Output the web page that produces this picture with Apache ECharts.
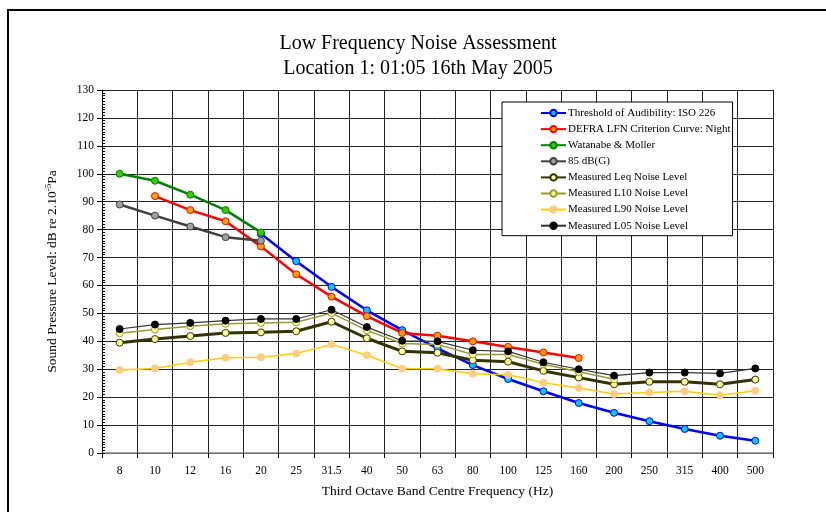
<!DOCTYPE html>
<html>
<head>
<meta charset="utf-8">
<script src="https://cdn.jsdelivr.net/npm/echarts@6/dist/echarts.min.js"></script>
<style>html,body{margin:0;padding:0;background:#fff;}#chart{width:826px;height:512px;}</style>
</head>
<body>
<div id="chart"></div>
<script>
const categories = ['8','10','12','16','20','25','31.5','40','50','63','80','100','125','160','200','250','315','400','500'];
const threshold = [null,null,null,null,78.5,68.7,59.5,51.1,44.0,37.5,31.5,26.5,22.1,17.9,14.4,11.4,8.6,6.2,4.4];
const defra = [null,92,87,83,74,64,56,49,43,42,40,38,36,34,null,null,null,null,null];
const watanabe = [100,97.5,92.5,87,79,null,null,null,null,null,null,null,null,null,null,null,null,null,null];
const dbg85 = [89,85,81.1,77.3,76.0,null,null,null,null,null,null,null,null,null,null,null,null,null,null];
const leq = [39.5,40.8,41.9,43.0,43.2,43.6,47.0,41.1,36.4,35.9,33.2,32.7,29.4,27.0,24.6,25.5,25.5,24.6,26.3];
const l10 = [42.9,44.2,45.4,46.3,46.6,46.8,50.1,43.9,39.2,38.9,35.3,35.3,31.8,29.1,26.4,null,null,null,null];
const l90 = [29.7,30.3,32.5,34.1,34.3,35.6,38.9,35.0,30.2,30.2,28.4,28.0,25.2,23.3,21.1,21.7,22.1,20.7,22.3];
const l05 = [44.4,46.0,46.6,47.4,48.0,48.0,51.3,45.1,40.2,40.0,36.8,36.4,32.5,30.0,27.7,28.8,28.8,28.5,30.3];

const FONT = 'Liberation Serif';
function mk(name, data, line, width, fill, border) {
  return {
    name: name, type: 'line', data: data, connectNulls: false,
    symbol: 'circle', symbolSize: 7, showAllSymbol: true,
    lineStyle: { color: line, width: width },
    itemStyle: { color: fill, borderColor: border, borderWidth: 1 },
    emphasis: { disabled: true }, animation: false
  };
}
const chart = echarts.init(document.getElementById('chart'), null, { renderer: 'canvas' });
chart.setOption({
  animation: false,
  backgroundColor: '#fff',
  textStyle: { fontFamily: FONT },
  graphic: [
    { type: 'rect', shape: { x: 8, y: 10, width: 840, height: 520 }, style: { fill: 'none', stroke: '#000', lineWidth: 2 }, silent: true },
    { type: 'text', x: 418, y: 31, style: { text: 'Low Frequency Noise Assessment\nLocation 1: 01:05 16th May 2005', textAlign: 'center', fontFamily: FONT, fontSize: 20, lineHeight: 25, fill: '#000' }, silent: true }
  ],
  legend: {
    orient: 'vertical', left: 502, top: 102,
    backgroundColor: '#fff', borderColor: '#000', borderWidth: 1,
    padding: [4, 2, 3, 38], itemGap: 2.1, itemWidth: 25, itemHeight: 8,
    textStyle: { fontFamily: FONT, fontSize: 11, lineHeight: 14, color: '#000', padding: [0, 0, 0, -3] },
    selectedMode: false
  },
  grid: { left: 102, right: 53, top: 90, bottom: 59 },
  xAxis: {
    type: 'category', data: categories, boundaryGap: true,
    name: 'Third Octave Band Centre Frequency (Hz)', nameLocation: 'middle', nameGap: 31,
    nameTextStyle: { fontFamily: FONT, fontSize: 13.5, color: '#000' },
    axisLine: { lineStyle: { color: '#888', width: 1.5 } },
    axisTick: { show: true, interval: 0, length: 5, lineStyle: { color: '#000' } },
    axisLabel: { interval: 0, fontFamily: FONT, fontSize: 11.5, color: '#000', margin: 12 },
    splitLine: { show: true, interval: 0, lineStyle: { color: '#222', width: 1 } }
  },
  yAxis: [{
    type: 'value', min: 0, max: 130, interval: 10,
    name: '{a|Sound Pressure Level: dB re 2.10}{s|-5}{a|Pa}', nameLocation: 'middle', nameGap: 41, nameRotate: 90,
    nameTextStyle: { rich: { a: { fontFamily: FONT, fontSize: 13.5, color: '#000' }, s: { fontFamily: FONT, fontSize: 9, color: '#000', verticalAlign: 'top', padding: [0, 0, 8, 0] } } },
    axisLine: { show: true, lineStyle: { color: '#000', width: 1 } },
    axisTick: { show: true, length: 5, lineStyle: { color: '#000' } },
    axisLabel: { fontFamily: FONT, fontSize: 11.5, color: '#000', margin: 8 },
    splitLine: { show: true, lineStyle: { color: '#222', width: 1 } }
  }, {
    type: 'value', min: 0, max: 130, interval: 1, position: 'left', offset: 0,
    axisLine: { show: false }, axisLabel: { show: false }, splitLine: { show: false },
    axisTick: { show: true, inside: true, length: 3, lineStyle: { color: '#000' } }
  }],
  series: [
    mk('Threshold of Audibility: ISO 226', threshold, '#0000FF', 2.5, '#00CCFF', '#0000FF'),
    mk('DEFRA LFN Criterion Curve: Night', defra, '#FF0000', 2.5, '#FFA500', '#FF0000'),
    mk('Watanabe & Moller', watanabe, '#008000', 2.5, '#33CC00', '#008000'),
    mk('85 dB(G)', dbg85, '#404040', 2.5, '#A0A0A0', '#404040'),
    mk('Measured Leq Noise Level', leq, '#333300', 3, '#FFFF99', '#333300'),
    mk('Measured L10 Noise Level', l10, '#999933', 1.5, '#FFFF99', '#999933'),
    mk('Measured L90 Noise Level', l90, '#FFCC00', 1.5, '#FFCC80', '#FFCC80'),
    mk('Measured L05 Noise Level', l05, '#333333', 1.2, '#000000', '#000000')
  ]
});
</script>
</body>
</html>
